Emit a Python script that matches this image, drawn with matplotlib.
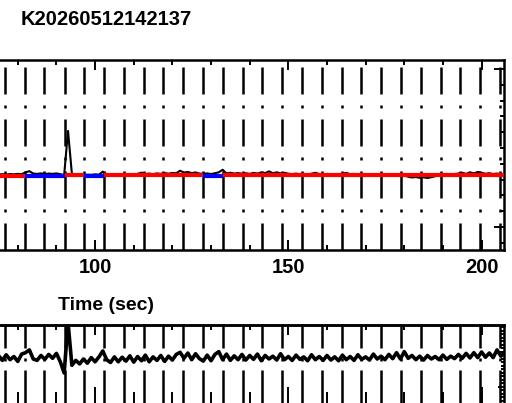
import numpy as np
import matplotlib.pyplot as plt
from matplotlib.ticker import MultipleLocator

plt.rcParams['font.family'] = ['Liberation Sans', 'DejaVu Sans']
plt.rcParams['lines.scale_dashes'] = False

# data
title = 'K20260512142137'
t_start, t_end = 75.4, 205.8
time = np.arange(75, 207)

top_flux = [
    33.2, 33.4, 33.1, 33.5, 33.3, 33.6, 33.4, 34.6, 35.3, 33.8,   # 75-84
    33.6, 33.9, 33.5, 33.8, 33.6, 33.9, 33.4, 32.8, 60.8, 33.6,   # 85-94
    33.0, 33.2, 32.9, 33.1, 33.0, 33.3, 33.1, 35.0, 33.4, 33.0,   # 95-104
    33.2, 32.9, 33.1, 33.3, 33.0, 33.2, 33.6, 34.4, 33.5, 33.8,   # 105-114
    33.4, 33.9, 33.6, 34.1, 33.7, 34.2, 34.0, 35.6, 34.4, 34.8,   # 115-124
    34.1, 34.5, 33.8, 33.6, 33.9, 33.5, 34.0, 34.6, 36.2, 33.9,   # 125-134
    34.3, 33.8, 34.1, 33.7, 34.0, 33.6, 34.2, 33.8, 34.5, 34.1,   # 135-144
    35.2, 34.0, 34.6, 33.9, 34.3, 33.7, 33.4, 33.8, 33.2, 33.6,   # 145-154
    33.3, 33.7, 34.3, 33.5, 33.2, 33.6, 33.1, 33.5, 33.3, 33.7,   # 155-164
    34.2, 33.4, 33.6, 33.1, 33.5, 33.2, 33.4, 33.0, 33.3, 33.6,   # 165-174
    33.1, 33.4, 33.0, 32.8, 33.2, 32.6, 31.8, 31.3, 31.6, 31.1,   # 175-184
    31.4, 31.0, 31.5, 32.1, 33.0, 33.3, 33.6, 33.2, 33.5, 33.8,   # 185-194
    34.3, 33.6, 34.6, 33.9, 34.8, 34.2, 33.7, 34.0, 33.5, 33.8,   # 195-204
    33.4, 33.6,                                                   # 205-206
]

bottom_flux = [
    90, 76, 92, 78, 87, 73, 94, 98, 106, 80,      # 75-84
    76, 90, 79, 93, 82, 96, 72, 40, 185, 62,      # 85-94
    76, 66, 80, 68, 84, 72, 86, 103, 78, 70,      # 95-104
    86, 72, 85, 74, 89, 71, 87, 75, 91, 72,       # 105-114
    86, 76, 90, 73, 88, 77, 93, 99, 82, 97,       # 115-124
    78, 95, 81, 74, 91, 75, 93, 101, 78, 94,      # 125-134
    76, 89, 78, 93, 77, 90, 79, 94, 75, 90,       # 135-144
    80, 88, 77, 95, 78, 87, 76, 91, 79, 86,       # 145-154
    75, 92, 78, 87, 76, 90, 77, 86, 75, 91,       # 155-164
    78, 87, 76, 92, 79, 86, 77, 94, 80, 88,       # 165-174
    78, 93, 81, 98, 80, 101, 82, 90, 78, 88,      # 175-184
    77, 90, 80, 87, 78, 91, 79, 88, 81, 93,       # 185-194
    82, 96, 83, 98, 84, 100, 85, 97, 84, 106,     # 195-204
    88, 98,                                       # 205-206
]

# times of the dash-dot markers
pulse_times = [76.7, 81.8, 86.9, 92.1, 97.2, 102.4, 107.5, 112.6, 117.7,
               122.8, 127.9, 133.1, 138.2, 143.3, 148.4, 153.5, 158.7,
               163.8, 168.9, 174.0, 179.1, 184.3, 189.4, 194.5, 199.6, 204.7]

# model level per interval
model_edges = [75.4, 81.8, 92.1, 97.2, 102.4, 127.9, 133.1, 205.8]
model_levels = [32.3, 32.0, 32.9, 32.3, 32.7, 32.3, 32.7]
model_colors = ['red', 'blue', 'red', 'blue', 'red', 'blue', 'red']

W, H = 512, 403
px = 0.72  # points per pixel at dpi 100

fig = plt.figure(figsize=(W / 100, H / 100), dpi=100)
ax1 = fig.add_axes([0, 153 / H, 504 / W, 190 / H])
ax2 = fig.add_axes([0, -1 / H, 504 / W, 79 / H])

dash_top = (0, (27 * px, 11 * px, 3 * px, 11 * px))
dash_bot = (0, (34 * px, 9 * px, 3 * px, 10 * px))

for ax, dash in ((ax1, dash_top), (ax2, dash_bot)):
    for tp in pulse_times:
        ax.axvline(tp, color='black', lw=1.8, linestyle=dash, zorder=1)

ax1.plot(time, top_flux, color='black', lw=1.5, zorder=2)
for i in range(len(model_levels)):
    ax1.plot(model_edges[i:i + 2], [model_levels[i]] * 2,
             color=model_colors[i], lw=3.0, solid_capstyle='butt', zorder=3)

ax2.plot(time, bottom_flux, color='black', lw=2.6, zorder=2)

ax1.set_ylim(-14.6, 105.7)
ax2.set_ylim(-48.6, 177.1)

for ax in (ax1, ax2):
    ax.set_xlim(t_start, t_end)
    ax.spines['left'].set_visible(False)
    for s in ('top', 'bottom', 'right'):
        ax.spines[s].set_linewidth(1.8)
    ax.xaxis.set_major_locator(MultipleLocator(50))
    ax.xaxis.set_minor_locator(MultipleLocator(10))
    ax.yaxis.tick_right()
    ax.tick_params(axis='y', which='both', direction='in', left=False,
                   right=True, labelright=False, labelleft=False, width=1.4)

ax1.yaxis.set_major_locator(MultipleLocator(100))
ax1.yaxis.set_minor_locator(MultipleLocator(10))
ax1.tick_params(axis='y', which='major', length=10 * px)
ax1.tick_params(axis='y', which='minor', length=4 * px)
ax1.tick_params(axis='x', which='both', direction='in', top=True,
                bottom=True, width=1.4, labelsize=14.5, pad=6)
ax1.tick_params(axis='x', which='major', length=10 * px)
ax1.tick_params(axis='x', which='minor', length=5 * px)
for lab in ax1.get_xticklabels():
    lab.set_fontweight('bold')

ax2.yaxis.set_major_locator(MultipleLocator(100))
ax2.yaxis.set_minor_locator(MultipleLocator(10))
ax2.tick_params(axis='y', which='major', length=6 * px)
ax2.tick_params(axis='y', which='minor', length=3 * px)
ax2.tick_params(axis='x', which='both', direction='in', top=False,
                bottom=True, labelbottom=False, width=1.4)
ax2.tick_params(axis='x', which='major', length=17 * px)
ax2.tick_params(axis='x', which='minor', length=12 * px)
sec = ax2.secondary_xaxis('top')
sec.xaxis.set_major_locator(MultipleLocator(50))
sec.xaxis.set_minor_locator(MultipleLocator(10))
sec.spines['top'].set_linewidth(1.8)
sec.tick_params(axis='x', which='both', direction='in', width=1.4,
                labeltop=False)
sec.tick_params(axis='x', which='major', length=10 * px)
sec.tick_params(axis='x', which='minor', length=5 * px)

fig.text(21 / W, 1 - 25 / H, title, fontsize=14.5, fontweight='bold',
         ha='left', va='baseline')
fig.text(106 / W, 1 - 310 / H, 'Time (sec)', fontsize=14, fontweight='bold',
         ha='center', va='baseline')

fig.savefig('out.png', dpi=100)
